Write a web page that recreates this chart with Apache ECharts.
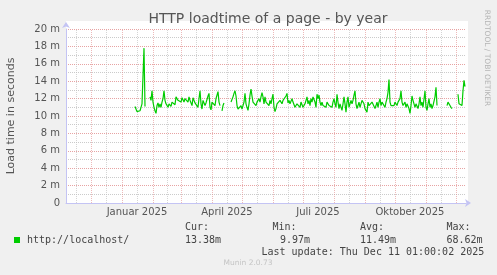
<!DOCTYPE html>
<html>
<head>
<meta charset="utf-8">
<script src="https://cdn.jsdelivr.net/npm/echarts@6/dist/echarts.min.js"></script>
<style>
html,body{margin:0;padding:0;background:#f0f0f0;}
#chart{width:497px;height:275px;}
</style>
</head>
<body>
<div id="chart"></div>
<script>
// ---- data (load time in milliseconds, one sample per day starting 2025-01-14) ----
const seriesName = 'http://localhost/';
const seriesStart = '2025-01-14';
const loadtime = [
  11.1,10.9,10.5,10.3,10.3,10.6,11.0,11.4,11.6,17.8,11.1,
  null,null,null,null,
  12.2,11.8,12.9,11.6,11.0,10.6,10.3,11.2,11.5,11.0,11.4,11.0,11.6,12.0,12.9,11.8,11.4,11.6,11.0,11.4,
  11.6,11.1,11.6,11.4,11.7,11.3,12.2,12.4,11.8,11.6,11.9,11.6,12.1,11.9,11.6,12.0,11.8,12.1,11.6,12.2,
  11.8,12.0,11.2,12.1,11.8,11.5,11.3,11.7,11.0,12.0,12.9,11.4,10.8,11.8,11.6,11.2,11.5,11.9,12.3,12.6,
  11.0,10.7,11.6,11.4,11.8,11.2,12.0,12.4,12.8,11.6,11.2,
  null,
  10.6,11.2,11.5,
  null,null,null,null,null,null,
  11.6,11.8,12.2,12.6,
  12.9,12.3,11.2,10.8,10.7,10.8,11.2,10.8,11.0,11.6,12.6,11.4,11.0,10.65,11.4,12.4,13.1,12.3,11.6,11.4,
  11.6,11.2,11.6,11.4,12.0,11.6,12.2,12.7,12.2,11.4,12.2,11.6,11.4,11.6,11.2,11.8,11.4,12.0,12.5,11.0,
  10.5,10.85,11.4,11.6,11.2,11.8,11.6,11.4,11.8,11.6,12.0,12.3,12.6,11.5,11.8,11.4,11.2,12.0,11.6,11.4,
  11.0,11.1,11.4,11.2,11.4,11.0,11.6,11.4,11.0,11.1,11.4,11.8,12.2,11.4,11.8,11.2,12.0,11.6,12.2,12.2,
  11.6,11.0,12.5,12.0,12.4,11.6,11.2,11.6,11.2,11.2,11.4,11.0,11.6,11.4,11.2,11.4,11.4,11.0,11.6,12.0,
  11.4,11.0,12.5,11.6,10.85,11.4,11.2,10.65,11.4,12.2,
  11.4,10.45,11.6,12.2,11.0,11.4,11.8,11.4,11.8,12.4,12.9,11.4,10.85,11.2,11.6,11.0,11.4,11.8,11.6,11.4,
  10.85,10.65,10.45,11.6,11.2,11.0,11.4,11.6,11.6,11.4,10.85,11.2,11.6,11.0,11.6,12.0,11.2,11.6,11.4,11.4,
  11.0,11.6,12.0,12.7,14.2,11.6,11.2,11.4,11.4,11.2,11.6,11.4,11.2,11.6,11.4,12.0,12.9,11.6,11.2,11.4,
  11.6,11.0,11.4,11.2,10.85,10.3,11.2,12.3,11.8,11.6,11.0,11.4,11.2,10.85,11.4,12.2,11.2,11.6,11.0,10.85,
  12.9,11.0,10.65,11.4,12.0,11.0,11.4,10.85,11.2,11.4,12.2,13.3,11.2,
  null,null,null,null,null,null,null,null,null,
  11.2,11.6,11.6,11.6,11.0,10.85,
  null,null,null,null,null,
  12.5,11.4,11.2,11.6,11.2,12.9,14.1,13.38
];
const axisStart = '2024-11-06T01:00:00Z';
const axisEnd = '2025-12-11T01:00:00Z';
const monthStarts = ['2024-12-01','2025-01-01','2025-02-01','2025-03-01','2025-04-01','2025-05-01','2025-06-01',
  '2025-07-01','2025-08-01','2025-09-01','2025-10-01','2025-11-01','2025-12-01'];
const midMonths = ['2024-11-16','2024-12-16','2025-01-16','2025-02-15','2025-03-16','2025-04-16','2025-05-16',
  '2025-06-16','2025-07-16','2025-08-16','2025-09-16','2025-10-16','2025-11-16'];
const monthLabelDates = ['2025-01-16','2025-04-16','2025-07-16','2025-10-16'];
const monthLabelTexts = ['Januar 2025','April 2025','Juli 2025','Oktober 2025'];
const yTickLabels = ['0','2 m','4 m','6 m','8 m','10 m','12 m','14 m','16 m','18 m','20 m'];
const statLabels = ['Cur:','Min:','Avg:','Max:'];
const statValues = ['13.38m','9.97m','11.49m','68.62m'];
const titleText = 'HTTP loadtime of a page - by year';
const yAxisTitle = 'Load time in seconds';
const lastUpdate = 'Last update: Thu Dec 11 01:00:02 2025';
const footer = 'Munin 2.0.73';
const watermark = 'RRDTOOL / TOBI OETIKER';

// ---- build ----
const DAY = 86400000;
const t0 = Date.parse(seriesStart + 'T01:00:00Z');
const lineData = loadtime.map((v, i) => [t0 + i * DAY, v]);

const RED = 'rgba(225,140,140,0.8)';
const RED_V = 'rgba(225,140,140,0.6)';
const GRAY = 'rgba(190,190,190,0.8)';
const GRAY_V = 'rgba(190,190,190,0.65)';
const DOT = [1, 1];

const markData = [];
monthStarts.forEach(d => markData.push({
  xAxis: Date.parse(d), lineStyle: {color: RED_V, type: DOT, width: 1}, label: {show: false}
}));
midMonths.forEach(d => {
  const li = monthLabelDates.indexOf(d);
  markData.push({
    xAxis: Date.parse(d), lineStyle: {color: GRAY_V, type: DOT, width: 1},
    label: li >= 0 ? {show: true, position: 'start', formatter: monthLabelTexts[li], distance: 4,
      color: '#555', fontSize: 10, fontFamily: 'DejaVu Sans'} : {show: false}
  });
});

const mono = '10px "DejaVu Sans Mono"';
const TXT = '#444';
const statX = [185, 272.5, 360, 446.5];
const statValX = [185, 280, 360, 446.5];
const graphics = [
  {type: 'rect', z: -10, shape: {x: 66, y: 21, width: 402, height: 182}, style: {fill: '#ffffff'}},
  {type: 'text', x: 268, y: 19, style: {text: titleText, font: '14px "DejaVu Sans"', fill: '#555',
    align: 'center', verticalAlign: 'middle', textAlign: 'center', textVerticalAlign: 'middle'}},
  {type: 'text', x: 11, y: 116, rotation: Math.PI / 2, style: {text: yAxisTitle, font: '11px "DejaVu Sans"', fill: '#555',
    align: 'center', verticalAlign: 'middle', textAlign: 'center', textVerticalAlign: 'middle'}},
  {type: 'text', x: 487, y: 58, rotation: -Math.PI / 2, style: {text: watermark, font: '7.5px "DejaVu Sans"', fill: '#b4b4b4',
    align: 'center', verticalAlign: 'middle', textAlign: 'center', textVerticalAlign: 'middle'}},
  {type: 'rect', shape: {x: 14, y: 237, width: 6, height: 6}, style: {fill: '#00cc00'}},
  {type: 'text', x: 27, y: 240, style: {text: seriesName, font: mono, fill: TXT,
    align: 'left', verticalAlign: 'middle', textAlign: 'left', textVerticalAlign: 'middle'}},
  {type: 'text', x: 261.5, y: 252.3, style: {text: lastUpdate, font: mono, fill: TXT,
    align: 'left', verticalAlign: 'middle', textAlign: 'left', textVerticalAlign: 'middle'}},
  {type: 'text', x: 248, y: 263.5, style: {text: footer, font: '7.5px "DejaVu Sans"', fill: '#c4c4c4',
    align: 'center', verticalAlign: 'middle', textAlign: 'center', textVerticalAlign: 'middle'}}
];
statLabels.forEach((s, i) => {
  graphics.push({type: 'text', x: statX[i], y: 227, style: {text: s, font: mono, fill: TXT,
    align: 'left', verticalAlign: 'middle', textAlign: 'left', textVerticalAlign: 'middle'}});
  graphics.push({type: 'text', x: statValX[i], y: 240, style: {text: statValues[i], font: mono, fill: TXT,
    align: 'left', verticalAlign: 'middle', textAlign: 'left', textVerticalAlign: 'middle'}});
});

const chart = echarts.init(document.getElementById('chart'), null, {renderer: 'canvas'});
chart.setOption({
  animation: false,
  backgroundColor: '#f0f0f0',
  grid: {left: 66, right: 31, top: 29, bottom: 72, show: false},
  xAxis: {
    type: 'time', min: Date.parse(axisStart), max: Date.parse(axisEnd),
    axisLine: {show: true, lineStyle: {color: '#c4c4f4', width: 1}, symbol: ['none', 'arrow'], symbolSize: [6, 6], symbolOffset: [0, 5]},
    axisTick: {show: false}, axisLabel: {show: false}, splitLine: {show: false}
  },
  yAxis: {
    type: 'value', min: 0, max: 20, interval: 2,
    axisLine: {show: true, lineStyle: {color: '#c4c4f4', width: 1}, symbol: ['none', 'arrow'], symbolSize: [6, 6], symbolOffset: [0, 7]},
    axisTick: {show: false},
    axisLabel: {color: '#555', fontSize: 10, fontFamily: 'DejaVu Sans', margin: 6,
      formatter: v => yTickLabels[Math.round(v / 2)]},
    splitLine: {show: true, lineStyle: {color: RED, type: DOT, width: 1}},
    minorTick: {show: false, splitNumber: 2},
    minorSplitLine: {show: true, lineStyle: {color: GRAY, type: DOT, width: 1}}
  },
  graphic: graphics,
  series: [
    {
      type: 'line', z: 1, data: [], silent: true,
      markLine: {silent: true, symbol: ['none', 'none'], animation: false, data: markData}
    },
    {
      type: 'line', name: seriesName, z: 5, data: lineData, showSymbol: false, connectNulls: false,
      lineStyle: {color: '#00cc00', width: 1.2}, itemStyle: {color: '#00cc00'}
    }
  ]
});
</script>
</body>
</html>
